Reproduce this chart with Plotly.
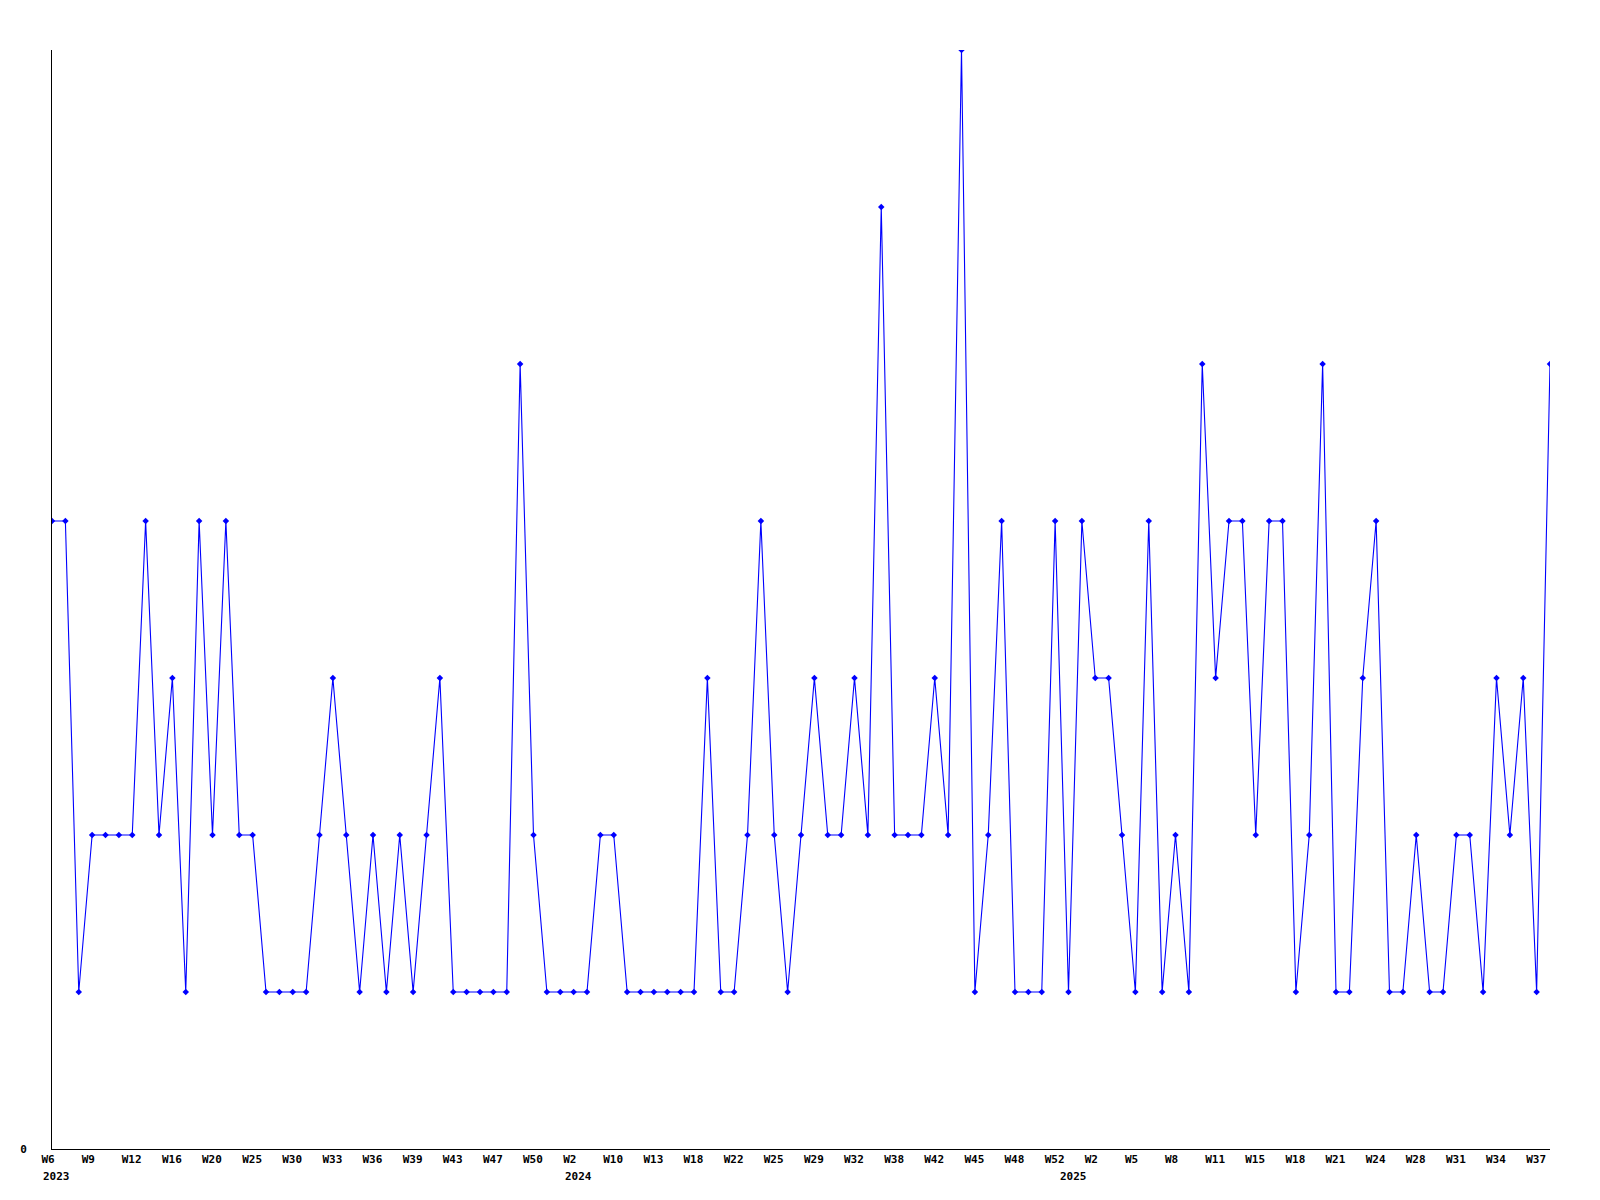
import plotly.graph_objects as go

# ---- data ----
weeks_2023 = [6, 7, 8, 9, 10, 11, 12, 13, 15, 16, 17, 19, 20, 22, 23, 25, 27, 28,
              30, 31, 32, 33, 34, 35, 36, 37, 38, 39, 40, 42, 43, 44, 46, 47, 48, 49,
              50, 51, 52]
weeks_2024 = [2, 4, 7, 10, 11, 12, 13, 15, 16, 18, 19, 21, 22, 23, 24, 25, 26, 28,
              29, 30, 31, 32, 34, 36, 38, 39, 41, 42, 43, 44, 45, 46, 47, 48, 49, 50,
              52]
weeks_2025 = [0, 1, 2, 3, 4, 5, 6, 7, 8, 9, 10, 11, 12, 14, 15, 16, 17, 18, 19, 20,
              21, 22, 23, 24, 26, 27, 28, 29, 30, 31, 32, 33, 34, 35, 36, 37, 38]

values = [
    4, 4, 1, 2, 2, 2, 2, 4, 2, 3, 1, 4, 2, 4, 2, 2, 1, 1, 1, 1, 2, 3, 2, 1, 2, 1, 2, 1, 2, 3, 1,
    1, 1, 1, 1, 5, 2, 1, 1, 1, 1, 2, 2, 1, 1, 1, 1, 1, 1, 3, 1, 1, 2, 4, 2, 1, 2, 3, 2, 2,
    3, 2, 6, 2, 2, 2, 3, 2, 7, 1, 2, 4, 1, 1, 1, 4, 1, 4, 3, 3, 2, 1, 4, 1, 2, 1, 5, 3,
    4, 4, 2, 4, 4, 1, 2, 5, 1, 1, 3, 4, 1, 1, 2, 1, 1, 2, 2, 1, 3, 2, 3, 1, 5,
]

tick_labels = ["W6", "W9", "W12", "W16", "W20", "W25", "W30", "W33", "W36", "W39",
               "W43", "W47", "W50", "W2", "W10", "W13", "W18", "W22", "W25", "W29",
               "W32", "W38", "W42", "W45", "W48", "W52", "W2", "W5", "W8", "W11",
               "W15", "W18", "W21", "W24", "W28", "W31", "W34", "W37"]
year_labels = ["2023", "2024", "2025"]

# ---- build categories ----
categories = ([f"2023-W{w:02d}" for w in weeks_2023]
              + [f"2024-W{w:02d}" for w in weeks_2024]
              + [f"2025-W{w:02d}" for w in weeks_2025])
tick_cats = categories[::3][:len(tick_labels)]
year_first = [f"2023-W{weeks_2023[0]:02d}", f"2024-W{weeks_2024[0]:02d}",
              f"2025-W{weeks_2025[0]:02d}"]

FONT = dict(family="DejaVu Sans Mono", size=11, color="black", weight="bold")

fig = go.Figure()
fig.add_trace(go.Scatter(
    x=categories, y=values, mode="lines+markers",
    line=dict(color="#0000ff", width=1.1),
    marker=dict(symbol="diamond", size=5, color="#0000ff"),
    hoverinfo="skip", showlegend=False,
))

for yl, cat in zip(year_labels, year_first):
    fig.add_annotation(x=cat, y=0, xref="x", yref="paper", text=yl,
                       showarrow=False, xanchor="left", yanchor="top",
                       xshift=-11, yshift=-19, font=FONT)

fig.update_layout(
    width=1584, height=1184,
    margin=dict(l=42, r=42, t=42, b=43),
    plot_bgcolor="white", paper_bgcolor="white",
    font=FONT,
)
fig.update_xaxes(
    type="category", range=[0, len(categories) - 1],
    tickmode="array", tickvals=tick_cats, ticktext=tick_labels,
    ticks="", showgrid=False, zeroline=False,
    showline=True, linecolor="black", linewidth=1,
    ticklabelposition="outside right", ticklabelshift=-11,
    tickfont=FONT, tickangle=0,
)
fig.update_yaxes(
    range=[0, 7], tickmode="array", tickvals=[0], ticktext=["0"],
    ticks="", showgrid=False, zeroline=False,
    showline=True, linecolor="black", linewidth=1,
    ticklabelstandoff=22, tickfont=FONT,
)

fig.write_html("out.html")
